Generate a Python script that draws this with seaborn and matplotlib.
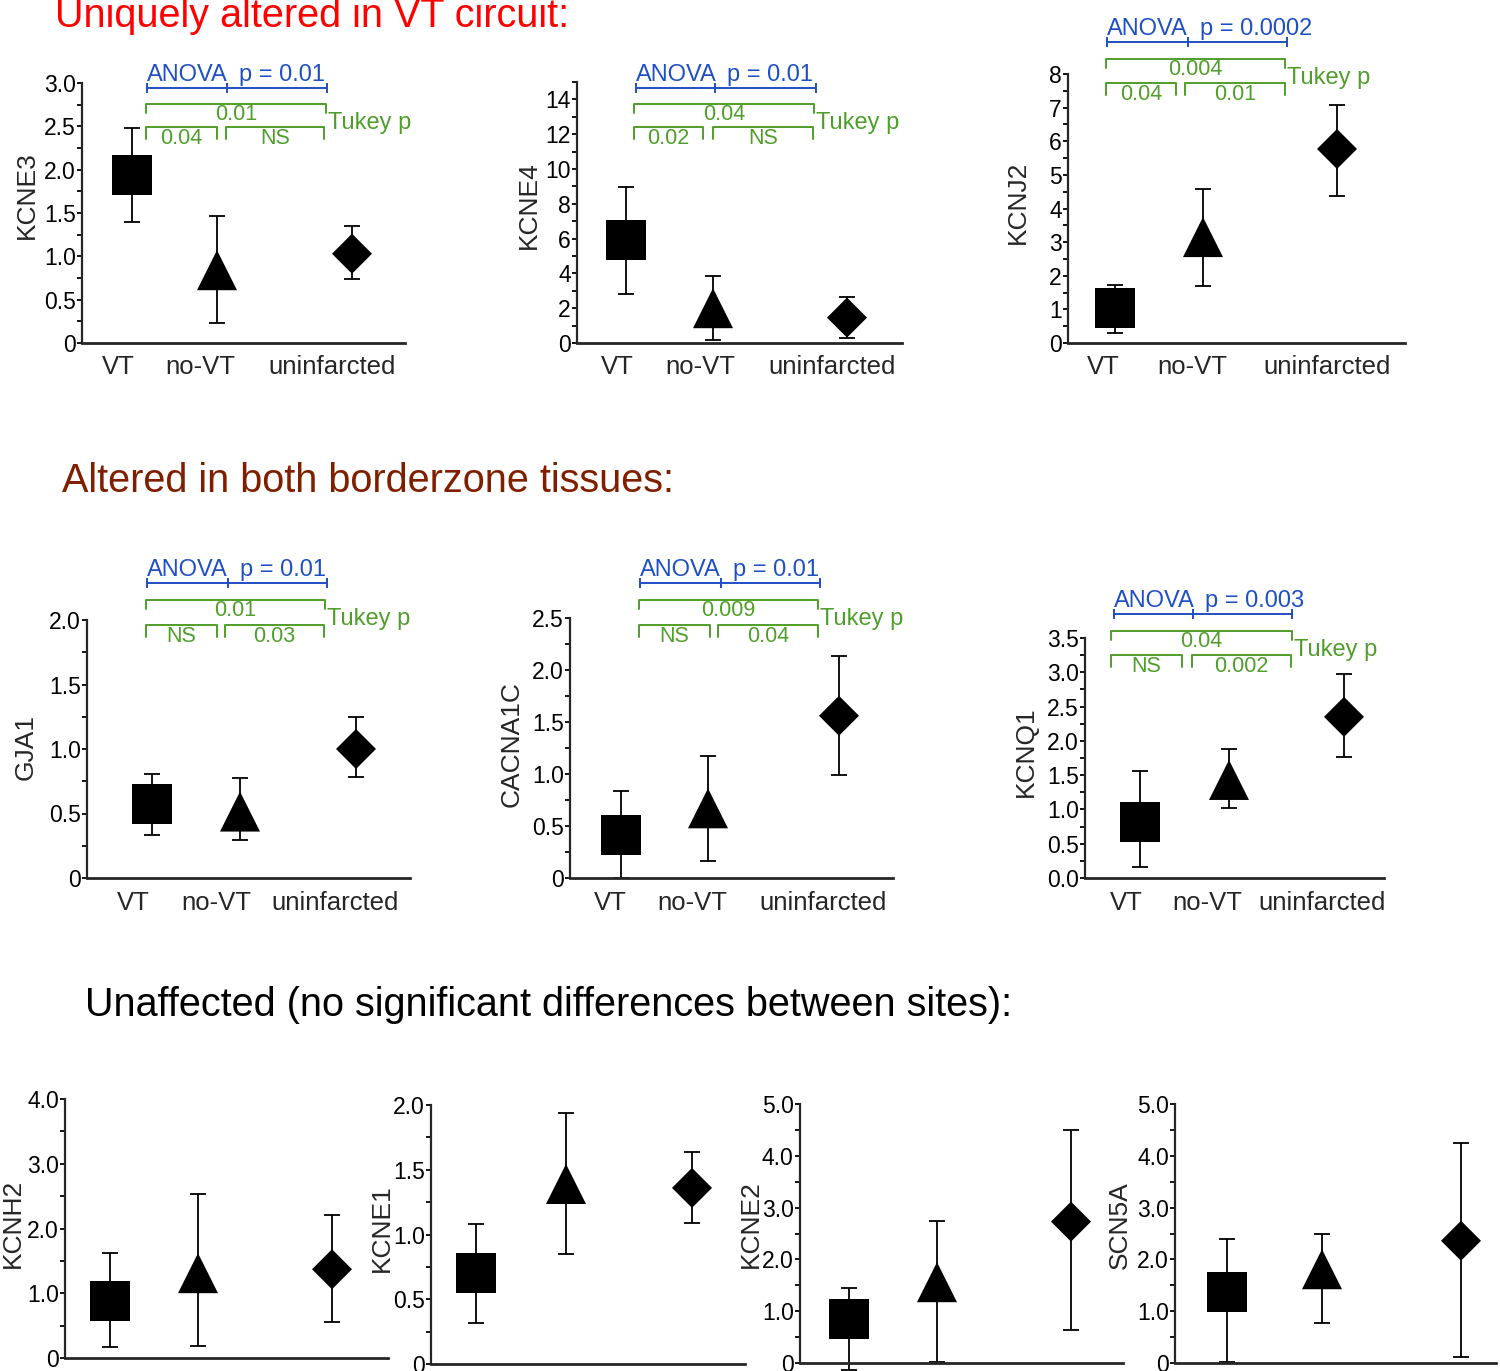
import numpy as np
import pandas as pd
import matplotlib
matplotlib.use("Agg")
import matplotlib.pyplot as plt
from matplotlib.path import Path
from matplotlib.transforms import Affine2D
from matplotlib.lines import Line2D
from matplotlib.ticker import MultipleLocator, FuncFormatter
import seaborn as sns

# ---------------- data ----------------
sites = ["VT", "no-VT", "uninfarcted"]

KCNE3_mean = [1.94, 0.84, 1.03]
KCNE3_upper = [2.48, 1.47, 1.35]
KCNE3_lower = [1.40, 0.23, 0.74]

KCNE4_mean = [5.9, 2.0, 1.46]
KCNE4_upper = [8.95, 3.85, 2.65]
KCNE4_lower = [2.8, 0.17, 0.30]

KCNJ2_mean = [1.04, 3.15, 5.77]
KCNJ2_upper = [1.73, 4.58, 7.08]
KCNJ2_lower = [0.30, 1.70, 4.37]

GJA1_mean = [0.57, 0.515, 1.0]
GJA1_upper = [0.81, 0.775, 1.25]
GJA1_lower = [0.33, 0.295, 0.78]

CACNA1C_mean = [0.41, 0.67, 1.56]
CACNA1C_upper = [0.84, 1.17, 2.13]
CACNA1C_lower = [0.0, 0.16, 0.99]

KCNQ1_mean = [0.82, 1.43, 2.35]
KCNQ1_upper = [1.56, 1.88, 2.97]
KCNQ1_lower = [0.16, 1.02, 1.76]

KCNH2_mean = [0.88, 1.31, 1.37]
KCNH2_upper = [1.62, 2.53, 2.21]
KCNH2_lower = [0.17, 0.19, 0.56]

KCNE1_mean = [0.70, 1.39, 1.36]
KCNE1_upper = [1.08, 1.94, 1.64]
KCNE1_lower = [0.32, 0.85, 1.09]

KCNE2_mean = [0.84, 1.56, 2.73]
KCNE2_upper = [1.45, 2.74, 4.50]
KCNE2_lower = [-0.13, 0.02, 0.64]

SCN5A_mean = [1.38, 1.81, 2.36]
SCN5A_upper = [2.39, 2.49, 4.25]
SCN5A_lower = [0.02, 0.77, 0.12]

DATA = {
    "KCNE3": (KCNE3_mean, KCNE3_upper, KCNE3_lower),
    "KCNE4": (KCNE4_mean, KCNE4_upper, KCNE4_lower),
    "KCNJ2": (KCNJ2_mean, KCNJ2_upper, KCNJ2_lower),
    "GJA1": (GJA1_mean, GJA1_upper, GJA1_lower),
    "CACNA1C": (CACNA1C_mean, CACNA1C_upper, CACNA1C_lower),
    "KCNQ1": (KCNQ1_mean, KCNQ1_upper, KCNQ1_lower),
    "KCNH2": (KCNH2_mean, KCNH2_upper, KCNH2_lower),
    "KCNE1": (KCNE1_mean, KCNE1_upper, KCNE1_lower),
    "KCNE2": (KCNE2_mean, KCNE2_upper, KCNE2_lower),
    "SCN5A": (SCN5A_mean, SCN5A_upper, SCN5A_lower),
}

# statistics text
anova_p = {"KCNE3": "0.01", "KCNE4": "0.01", "KCNJ2": "0.0002",
           "GJA1": "0.01", "CACNA1C": "0.01", "KCNQ1": "0.003"}
tukey_vt_uninf = {"KCNE3": "0.01", "KCNE4": "0.04", "KCNJ2": "0.004",
                  "GJA1": "0.01", "CACNA1C": "0.009", "KCNQ1": "0.04"}
tukey_vt_novt = {"KCNE3": "0.04", "KCNE4": "0.02", "KCNJ2": "0.04",
                 "GJA1": "NS", "CACNA1C": "NS", "KCNQ1": "NS"}
tukey_novt_uninf = {"KCNE3": "NS", "KCNE4": "NS", "KCNJ2": "0.01",
                    "GJA1": "0.03", "CACNA1C": "0.04", "KCNQ1": "0.002"}

section_titles = ["Uniquely altered in VT circuit:",
                  "Altered in both borderzone tissues:",
                  "Unaffected (no significant differences between sites):"]

# ---------------- layout (pixels in the 1500x1371 image) ----------------
W, H = 1500, 1371
LAYOUT = {
    "KCNE3": dict(box=(82, 405, 343, 83), ymax=3.0, major=0.5, minor=0.25, fmt="f1",
                  xs=(132, 217, 352), xl=(118, 200, 332), yl=(27, 195),
                  br=(88, 147, 227, 327, 104, 146, 326, 127, 217, 226, 324)),
    "KCNE4": dict(box=(577, 902, 343, 82), ymax=15, major=2, minor=1, fmt="int",
                  xs=(626, 713, 847), xl=(617, 700, 832), yl=(529, 205),
                  br=(88, 636, 715, 816, 104, 634, 814, 127, 703, 713, 813)),
    "KCNJ2": dict(box=(1068, 1405, 343, 74), ymax=8, major=1, minor=0.5, fmt="int",
                  xs=(1115, 1203, 1337), xl=(1103, 1192, 1327), yl=(1018, 202),
                  br=(42, 1107, 1188, 1287, 59, 1106, 1285, 83, 1176, 1185, 1285)),
    "GJA1": dict(box=(87, 410, 878, 620), ymax=2.0, major=0.5, minor=0.25, fmt="f1",
                 xs=(152, 240, 356), xl=(133, 216, 335), yl=(26, 747),
                 br=(583, 147, 228, 327, 600, 146, 325, 625, 217, 225, 324)),
    "CACNA1C": dict(box=(570, 893, 878, 618), ymax=2.5, major=0.5, minor=0.25, fmt="f1",
                    xs=(621, 708, 839), xl=(610, 692, 823), yl=(512, 744),
                    br=(583, 640, 721, 820, 600, 639, 818, 625, 710, 718, 818)),
    "KCNQ1": dict(box=(1085, 1384, 878, 638), ymax=3.5, major=0.5, minor=0.25, fmt="f1z",
                  xs=(1140, 1229, 1344), xl=(1126, 1207, 1322), yl=(1026, 752),
                  br=(614, 1114, 1193, 1292, 631, 1111, 1292, 655, 1182, 1192, 1291)),
    "KCNH2": dict(box=(65, 388, 1358, 1099), ymax=4.0, major=1.0, minor=0.5, fmt="f1",
                  xs=(110, 198, 332), xl=(100, 181, 306), yl=(13, 1223), br=None),
    "KCNE1": dict(box=(431, 745, 1364, 1105), ymax=2.0, major=0.5, minor=0.25, fmt="f1",
                  xs=(476, 566, 692), xl=None, yl=(382, 1228), br=None),
    "KCNE2": dict(box=(800, 1123, 1363, 1104), ymax=5.0, major=1.0, minor=0.5, fmt="f1",
                  xs=(849, 937, 1071), xl=None, yl=(751, 1224), br=None),
    "SCN5A": dict(box=(1175, 1496, 1363, 1104), ymax=5.0, major=1.0, minor=0.5, fmt="f1",
                  xs=(1227, 1322, 1461), xl=None, yl=(1120, 1225), br=None),
}

BLUE = "#1f4fc4"
GREEN = "#4f9e2a"
FAMILY = ["Liberation Sans", "DejaVu Sans"]

sns.set_style("ticks")
plt.rcParams["font.family"] = FAMILY
plt.rcParams["axes.linewidth"] = 1.6

fig = plt.figure(figsize=(W / 100, H / 100), dpi=100)
PX = Affine2D().scale(1.0 / W, -1.0 / H).translate(0, 1) + fig.transFigure


def poly(verts):
    v = list(verts) + [verts[0]]
    return Path(v, closed=True)


MARKERS = {
    "VT": poly([(-1, -1), (1, -1), (1, 1), (-1, 1)]),
    "no-VT": poly([(0, 1), (-1, -1), (1, -1)]),
    "uninfarcted": poly([(0, 1), (1, 0), (0, -1), (-1, 0)]),
}


def fmt_factory(kind):
    def f(v, pos):
        if kind == "int":
            return "%d" % round(v)
        if kind == "f1z":
            return "%.1f" % v
        if abs(v) < 1e-9:
            return "0"
        return "%.1f" % v
    return f


def hline(x1, x2, y, color, lw=1.4):
    fig.add_artist(Line2D([x1, x2], [y, y], transform=PX, color=color, lw=lw,
                          solid_capstyle="butt"))


def vline(x, y1, y2, color, lw=1.4):
    fig.add_artist(Line2D([x, x], [y1, y2], transform=PX, color=color, lw=lw,
                          solid_capstyle="butt"))


def green_bracket(x1, x2, y, drop):
    fig.add_artist(Line2D([x1, x1, x2, x2], [y + drop, y, y, y + drop], transform=PX,
                          color=GREEN, lw=1.4, solid_joinstyle="round"))


for gene, lay in LAYOUT.items():
    mean, upper, lower = DATA[gene]
    xl_, xr_, y0, yt = lay["box"]
    ax = fig.add_axes([xl_ / W, 1 - y0 / H, (xr_ - xl_) / W, (y0 - yt) / H])
    ax.set_xlim(xl_, xr_)
    ax.set_ylim(0, lay["ymax"])

    df = pd.DataFrame({"x": lay["xs"], "value": mean, "site": sites})
    m = np.array(mean)
    yerr = np.array([m - np.array(lower), np.array(upper) - m])
    eb = ax.errorbar(df["x"], df["value"], yerr=yerr, fmt="none", ecolor="black",
                     elinewidth=1.3, capsize=6, capthick=1.3, zorder=2)
    for art in list(eb.lines[1]) + list(eb.lines[2]):
        art.set_clip_on(False)

    sns.scatterplot(data=df, x="x", y="value", style="site", markers=MARKERS,
                    style_order=sites, s=830, color="black", edgecolor="black",
                    linewidth=0, legend=False, ax=ax, zorder=3, clip_on=False)

    sns.despine(ax=ax)
    ax.spines["left"].set_linewidth(1.6)
    ax.spines["bottom"].set_linewidth(2.0)

    ax.yaxis.set_major_locator(MultipleLocator(lay["major"]))
    ax.yaxis.set_minor_locator(MultipleLocator(lay["minor"]))
    ax.yaxis.set_major_formatter(FuncFormatter(fmt_factory(lay["fmt"])))
    ax.tick_params(axis="y", which="both", direction="out", length=3.5, width=1.3,
                   labelsize=16.5, pad=1, colors="black")

    if lay["xl"] is not None:
        ax.set_xticks(lay["xl"])
        ax.set_xticklabels(sites, fontsize=18.5)
    else:
        ax.set_xticks([])
    ax.tick_params(axis="x", length=0, pad=9)

    ax.set_xlabel("")
    ax.set_ylabel(gene, fontsize=19, va="center")
    ax.yaxis.set_label_coords(lay["yl"][0] / W, 1 - lay["yl"][1] / H,
                              transform=fig.transFigure)

    br = lay["br"]
    if br is not None:
        by, bx1, bxm, bx2, gy, gx1, gx2, ly, l1b, l2a, l2b = br
        # ANOVA bracket
        hline(bx1, bx2, by, BLUE)
        for xx in (bx1, bxm, bx2):
            vline(xx, by - 5, by + 5, BLUE)
        fig.text(bx1, by - 7, "ANOVA", transform=PX, color=BLUE, fontsize=17,
                 ha="left", va="baseline")
        fig.text(bxm + 12, by - 7, "p = " + anova_p[gene], transform=PX, color=BLUE,
                 fontsize=17, ha="left", va="baseline")
        # Tukey brackets
        green_bracket(gx1, gx2, gy, 9)
        fig.text((gx1 + gx2) / 2, gy + 16, tukey_vt_uninf[gene], transform=PX,
                 color=GREEN, fontsize=15.5, ha="center", va="baseline")
        green_bracket(gx1, l1b, ly, 12)
        fig.text((gx1 + l1b) / 2, ly + 17, tukey_vt_novt[gene], transform=PX,
                 color=GREEN, fontsize=15.5, ha="center", va="baseline")
        green_bracket(l2a, l2b, ly, 12)
        fig.text((l2a + l2b) / 2, ly + 17, tukey_novt_uninf[gene], transform=PX,
                 color=GREEN, fontsize=15.5, ha="center", va="baseline")
        fig.text(gx2 + 2, gy + 25, "Tukey p", transform=PX, color=GREEN,
                 fontsize=17, ha="left", va="baseline")

# section titles
fig.text(55, 27, section_titles[0], transform=PX, color="#ff0000", fontsize=28.5,
         ha="left", va="baseline")
fig.text(62, 492, section_titles[1], transform=PX, color="#7f1f00", fontsize=28.5,
         ha="left", va="baseline")
fig.text(85, 1016, section_titles[2], transform=PX, color="black", fontsize=28.5,
         ha="left", va="baseline")

fig.savefig("out.png", dpi=100)
